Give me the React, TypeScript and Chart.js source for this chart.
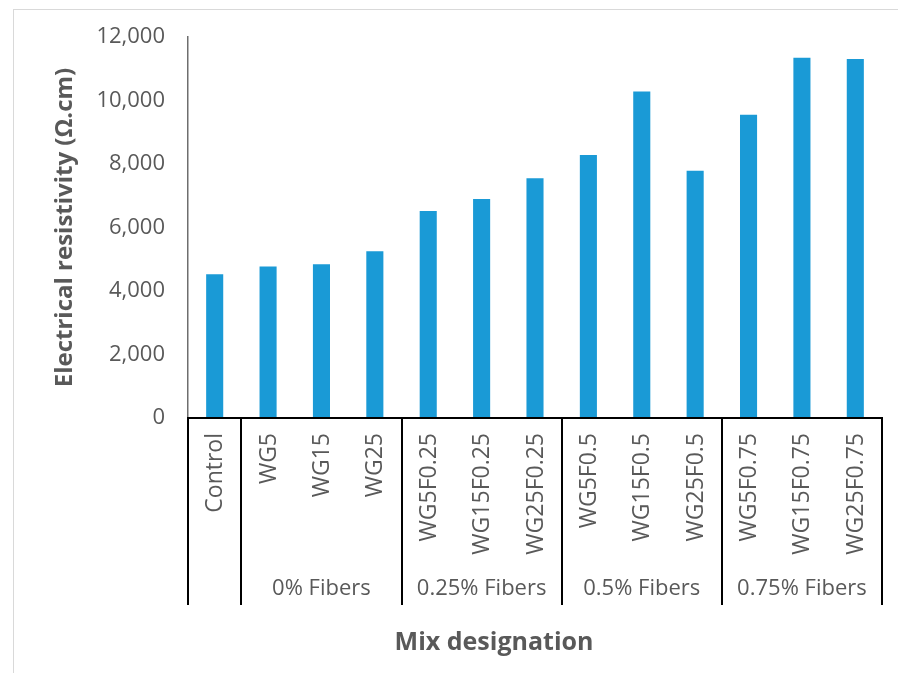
import { useEffect, useRef } from "react";
import { Chart, registerables } from "chart.js";

Chart.register(...registerables);

// Mix designations along the x axis, with the measured resistivity of each (Ω.cm)
const mixes = [
  "Control",
  "WG5",
  "WG15",
  "WG25",
  "WG5F0.25",
  "WG15F0.25",
  "WG25F0.25",
  "WG5F0.5",
  "WG15F0.5",
  "WG25F0.5",
  "WG5F0.75",
  "WG15F0.75",
  "WG25F0.75",
];
const resistivity = [4530, 4770, 4840, 5250, 6520, 6900, 7550, 8280, 10280, 7790, 9550, 11350, 11310];

// Second level of the category axis: fibre content groups and how many mixes each spans
const fiberGroups = ["", "0% Fibers", "0.25% Fibers", "0.5% Fibers", "0.75% Fibers"];
const groupSizes = [1, 3, 3, 3, 3];

const yMin = 0;
const yMax = 12000;
const yStep = 2000;

const FONT = "'Open Sans', 'DejaVu Sans', sans-serif";
const TEXT = "#595959";
const BAR = "#1A9AD6";

const groupedAxis = {
  id: "groupedAxis",
  beforeDraw(chart: any) {
    const { ctx, width, height } = chart;
    ctx.save();
    ctx.fillStyle = "#ffffff";
    ctx.fillRect(0, 0, width, height);
    ctx.strokeStyle = "#d9d9d9";
    ctx.lineWidth = 1;
    ctx.strokeRect(13.5, 9.5, width + 20, height + 20);
    ctx.restore();
  },
  afterDraw(chart: any) {
    const { ctx, chartArea } = chart;
    const x = chart.scales.x;
    const step = x.getPixelForValue(1) - x.getPixelForValue(0);
    const edge = (i: number) => x.getPixelForValue(0) - step / 2 + i * step;
    const bottom = chartArea.bottom;
    const lineEnd = 605;

    ctx.save();
    // category axis line
    ctx.strokeStyle = "#000000";
    ctx.lineWidth = 2;
    ctx.beginPath();
    ctx.moveTo(chartArea.left - 1, bottom);
    ctx.lineTo(edge(mixes.length) + 1, bottom);
    ctx.stroke();

    // group separators
    let idx = 0;
    const bounds = [0];
    groupSizes.forEach((n) => {
      idx += n;
      bounds.push(idx);
    });
    ctx.beginPath();
    bounds.forEach((b) => {
      const px = Math.round(edge(b));
      ctx.moveTo(px, bottom);
      ctx.lineTo(px, lineEnd);
    });
    ctx.stroke();

    // rotated mix labels
    ctx.fillStyle = TEXT;
    ctx.font = `23px ${FONT}`;
    ctx.textAlign = "right";
    ctx.textBaseline = "middle";
    mixes.forEach((m, i) => {
      ctx.save();
      ctx.translate(x.getPixelForValue(i) + 1, bottom + 15);
      ctx.rotate(-Math.PI / 2);
      ctx.fillText(m, 0, 0);
      ctx.restore();
    });

    // fibre group labels
    ctx.font = `22px ${FONT}`;
    ctx.textAlign = "center";
    fiberGroups.forEach((g, gi) => {
      if (!g) return;
      const cx = (edge(bounds[gi]) + edge(bounds[gi + 1])) / 2;
      ctx.fillText(g, cx, 589);
    });

    // axis title
    ctx.font = `bold 25px ${FONT}`;
    ctx.fillText("Mix designation", 494, 643);
    ctx.restore();
  },
};

export default function App() {
  const canvasRef = useRef<HTMLCanvasElement | null>(null);

  useEffect(() => {
    if (!canvasRef.current) return;
    const chart = new Chart(canvasRef.current, {
      type: "bar",
      data: {
        labels: mixes,
        datasets: [
          {
            label: "Electrical resistivity",
            data: resistivity,
            backgroundColor: BAR,
            barPercentage: 0.32,
            categoryPercentage: 1,
          },
        ],
      },
      options: {
        animation: false,
        responsive: true,
        maintainAspectRatio: false,
        layout: { padding: { left: 0, top: 37, right: 16, bottom: 255 } },
        plugins: {
          legend: { display: false },
          tooltip: { enabled: false },
        },
        scales: {
          x: { display: false },
          y: {
            min: yMin,
            max: yMax,
            afterFit: (scale: any) => {
              scale.width = 188;
            },
            ticks: {
              stepSize: yStep,
              color: TEXT,
              padding: 23,
              font: { family: FONT, size: 22 },
              callback: (v: any) => Number(v).toLocaleString("en-US"),
            },
            grid: { display: false, drawTicks: false },
            border: { display: true, color: "#6e6e6e", width: 1.5 },
            title: {
              display: true,
              text: "Electrical resistivity (Ω.cm)",
              color: TEXT,
              font: { family: FONT, size: 24, weight: "bold" },
              padding: { top: 51, bottom: 0 },
            },
          },
        },
      },
      plugins: [groupedAxis],
    });
    return () => chart.destroy();
  }, []);

  return (
    <div style={{ position: "fixed", left: 0, top: 0, width: 898, height: 673, background: "#fff" }}>
      <canvas ref={canvasRef} />
    </div>
  );
}
